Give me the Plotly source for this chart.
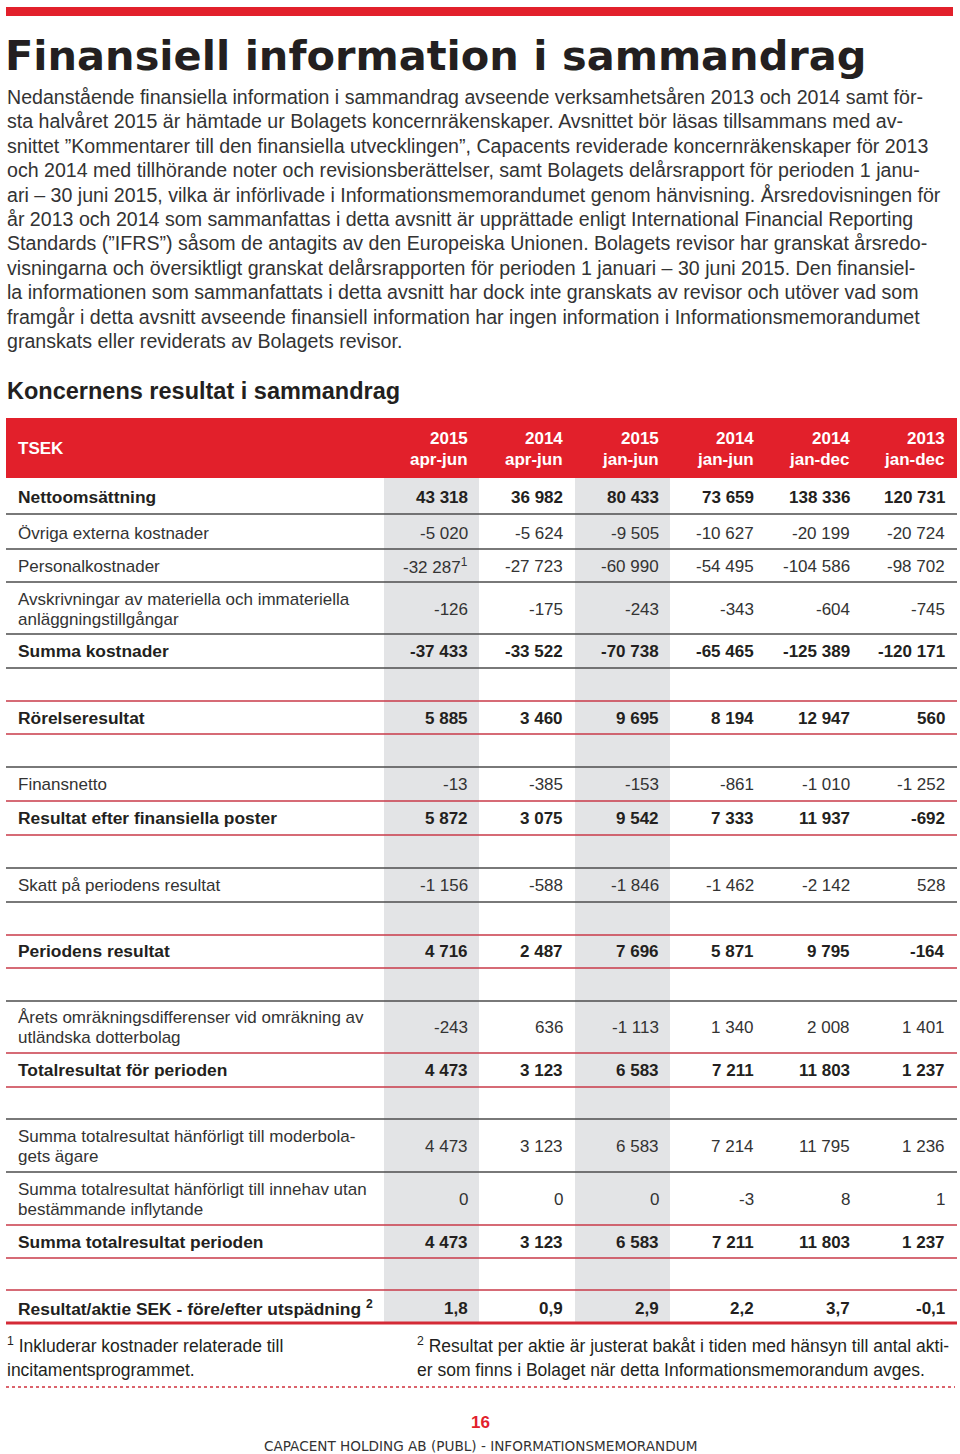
import plotly.graph_objects as go

# ---- data ----
col_years = ["2015", "2014", "2015", "2014", "2014", "2013"]
col_periods = ["apr-jun", "apr-jun", "jan-jun", "jan-jun", "jan-dec", "jan-dec"]

nettoomsattning = [43318, 36982, 80433, 73659, 138336, 120731]
ovriga_externa = [-5020, -5624, -9505, -10627, -20199, -20724]
personalkostnader = [-32287, -27723, -60990, -54495, -104586, -98702]
avskrivningar = [-126, -175, -243, -343, -604, -745]
summa_kostnader = [-37433, -33522, -70738, -65465, -125389, -120171]
rorelseresultat = [5885, 3460, 9695, 8194, 12947, 560]
finansnetto = [-13, -385, -153, -861, -1010, -1252]
resultat_efter_fin = [5872, 3075, 9542, 7333, 11937, -692]
skatt = [-1156, -588, -1846, -1462, -2142, 528]
periodens_resultat = [4716, 2487, 7696, 5871, 9795, -164]
omrakningsdiff = [-243, 636, -1113, 1340, 2008, 1401]
totalresultat = [4473, 3123, 6583, 7211, 11803, 1237]
tot_moderbolag = [4473, 3123, 6583, 7214, 11795, 1236]
tot_innehav = [0, 0, 0, -3, 8, 1]
summa_totalresultat = [4473, 3123, 6583, 7211, 11803, 1237]
resultat_per_aktie = [1.8, 0.9, 2.9, 2.2, 3.7, -0.1]

# (label, values, bold)
rows = [
    ("Nettoomsättning", nettoomsattning, True),
    ("Övriga externa kostnader", ovriga_externa, False),
    ("Personalkostnader", personalkostnader, False),
    ("Avskrivningar av materiella och immateriella\nanläggningstillgångar", avskrivningar, False),
    ("Summa kostnader", summa_kostnader, True),
    ("Rörelseresultat", rorelseresultat, True),
    ("Finansnetto", finansnetto, False),
    ("Resultat efter finansiella poster", resultat_efter_fin, True),
    ("Skatt på periodens resultat", skatt, False),
    ("Periodens resultat", periodens_resultat, True),
    ("Årets omräkningsdifferenser vid omräkning av\nutländska dotterbolag", omrakningsdiff, False),
    ("Totalresultat för perioden", totalresultat, True),
    ("Summa totalresultat hänförligt till moderbola-\ngets ägare", tot_moderbolag, False),
    ("Summa totalresultat hänförligt till innehav utan\nbestämmande inflytande", tot_innehav, False),
    ("Summa totalresultat perioden", summa_totalresultat, True),
    ("Resultat/aktie SEK - före/efter utspädning <sup>2</sup>", resultat_per_aktie, True),
]
footnote_marks = {(2, 0): "1"}  # Personalkostnader, 2015 apr-jun

intro_lines = [
    "Nedanstående finansiella information i sammandrag avseende verksamhetsåren 2013 och 2014 samt för-",
    "sta halvåret 2015 är hämtade ur Bolagets koncernräkenskaper. Avsnittet bör läsas tillsammans med av-",
    "snittet ”Kommentarer till den finansiella utvecklingen”, Capacents reviderade koncernräkenskaper för 2013",
    "och 2014 med tillhörande noter och revisionsberättelser, samt Bolagets delårsrapport för perioden 1 janu-",
    "ari – 30 juni 2015, vilka är införlivade i Informationsmemorandumet genom hänvisning. Årsredovisningen för",
    "år 2013 och 2014 som sammanfattas i detta avsnitt är upprättade enligt International Financial Reporting",
    "Standards (”IFRS”) såsom de antagits av den Europeiska Unionen. Bolagets revisor har granskat årsredo-",
    "visningarna och översiktligt granskat delårsrapporten för perioden 1 januari – 30 juni 2015. Den finansiel-",
    "la informationen som sammanfattats i detta avsnitt har dock inte granskats av revisor och utöver vad som",
    "framgår i detta avsnitt avseende finansiell information har ingen information i Informationsmemorandumet",
    "granskats eller reviderats av Bolagets revisor.",
]
note1 = ["<sup>1</sup> Inkluderar kostnader relaterade till", "incitamentsprogrammet."]
note2 = ["<sup>2</sup> Resultat per aktie är justerat bakåt i tiden med hänsyn till antal akti-",
         "er som finns i Bolaget när detta Informationsmemorandum avges."]

# ---- layout positions (page pixels) ----
RED = "#e2202b"
LINE_RED = "#c93a48"
LINE_DARK = "#4d4d4d"
GREY = "#e3e4e6"
TXT = "#231f20"
FONT = "Liberation Sans, Arial, sans-serif"

col_right = [469, 564, 660, 755, 851, 946]
shaded_cols = [0, 2]
row_y = [497, 533, 566, 609, 651, 718, 784, 818, 885, 951, 1027, 1070, 1146, 1199, 1242, 1308]
rule_lines = [
    (514, "d"), (549, "d"), (582, "d"), (634, "d"), (668, "d"),
    (701, "r"), (734, "r"), (767, "d"), (801, "r"), (835, "r"),
    (868, "d"), (902, "d"), (935, "r"), (968, "r"), (1001, "d"),
    (1053, "r"), (1087, "r"), (1119, "d"), (1172, "d"), (1225, "r"),
    (1258, "r"), (1290, "r"),
]


def fmt(v):
    if isinstance(v, float):
        return f"{v:.1f}".replace(".", ",")
    return f"{v:,}".replace(",", " ")


annotations = []
shapes = []


def txt(x, y, s, size=17, color=TXT, anchor="left", family=FONT):
    annotations.append(dict(
        x=x, y=y, text=s, showarrow=False, xanchor=anchor, yanchor="middle",
        font=dict(family=family, size=size, color=color), borderpad=0,
    ))


def rect(x0, y0, x1, y1, color):
    shapes.append(dict(type="rect", x0=x0, x1=x1, y0=y0, y1=y1,
                       fillcolor=color, line_width=0, layer="below"))


def hline(y, color, width=1.3, dash=None, x0=6, x1=957):
    shapes.append(dict(type="line", x0=x0, x1=x1, y0=y, y1=y,
                       line=dict(color=color, width=width, dash=dash)))


# top bar and title
rect(6, 7, 953, 16, RED)
txt(4, 55, "<b>Finansiell information i sammandrag</b>", size=41.5,
    family="DejaVu Sans, sans-serif")
for i, line in enumerate(intro_lines):
    txt(6, 97 + i * 24.4, line, size=19.6, color="#333333")

txt(6, 391, "<b>Koncernens resultat i sammandrag</b>", size=23.5)

# table header
rect(6, 418, 957, 478, RED)
txt(17, 448, "<b>TSEK</b>", color="white")
for c, (yr, per) in enumerate(zip(col_years, col_periods)):
    txt(col_right[c], 438, f"<b>{yr}</b>", color="white", anchor="right")
    txt(col_right[c], 459, f"<b>{per}</b>", color="white", anchor="right")

# shaded columns
for c in shaded_cols:
    rect(col_right[c] - 85, 478, col_right[c] + 10, 1322, GREY)

# rules
for y, kind in rule_lines:
    hline(y, LINE_DARK if kind == "d" else LINE_RED)
hline(1323, "#d42a36", width=3)

# rows
for r, (label, vals, bold) in enumerate(rows):
    y = row_y[r]
    parts = label.split("\n")
    for k, part in enumerate(parts):
        ly = y + (k - (len(parts) - 1) / 2) * 20
        txt(17, ly, f"<b>{part}</b>" if bold else part,
            size=17.4 if bold else 17, color=TXT if bold else "#333333")
    for c, v in enumerate(vals):
        s = fmt(v)
        if (r, c) in footnote_marks:
            s += f"<sup>{footnote_marks[(r, c)]}</sup>"
        if bold:
            s = f"<b>{s}</b>"
        txt(col_right[c], y, s, anchor="right", color=TXT if bold else "#333333")

# footnotes
for i, line in enumerate(note1):
    txt(6, 1345 + i * 25, line, size=17.5)
for i, line in enumerate(note2):
    txt(416, 1345 + i * 25, line, size=17.5)
hline(1387, "#d0303c", width=1.5, dash="dot", x0=6, x1=955)

txt(480, 1422, "<b>16</b>", size=17, color=RED, anchor="center")
txt(480, 1446, "CAPACENT HOLDING AB (PUBL) - INFORMATIONSMEMORANDUM", size=13.6,
    color="#333333", anchor="center", family="DejaVu Sans, sans-serif")

fig = go.Figure()
fig.add_trace(go.Scatter(x=[0, 960], y=[0, 1454], mode="markers",
                         marker=dict(opacity=0), hoverinfo="skip", showlegend=False))
fig.update_layout(
    width=960, height=1454,
    margin=dict(l=0, r=0, t=0, b=0),
    paper_bgcolor="white", plot_bgcolor="white",
    xaxis=dict(range=[0, 960], visible=False, fixedrange=True),
    yaxis=dict(range=[1454, 0], visible=False, fixedrange=True),
    annotations=annotations, shapes=shapes,
    showlegend=False,
)
# the page body has a default 8px margin; drop it so the page fills the window
fig.write_html("out.html", config={"displayModeBar": False},
               post_script="document.body.style.margin='0';document.body.style.overflow='hidden';")
